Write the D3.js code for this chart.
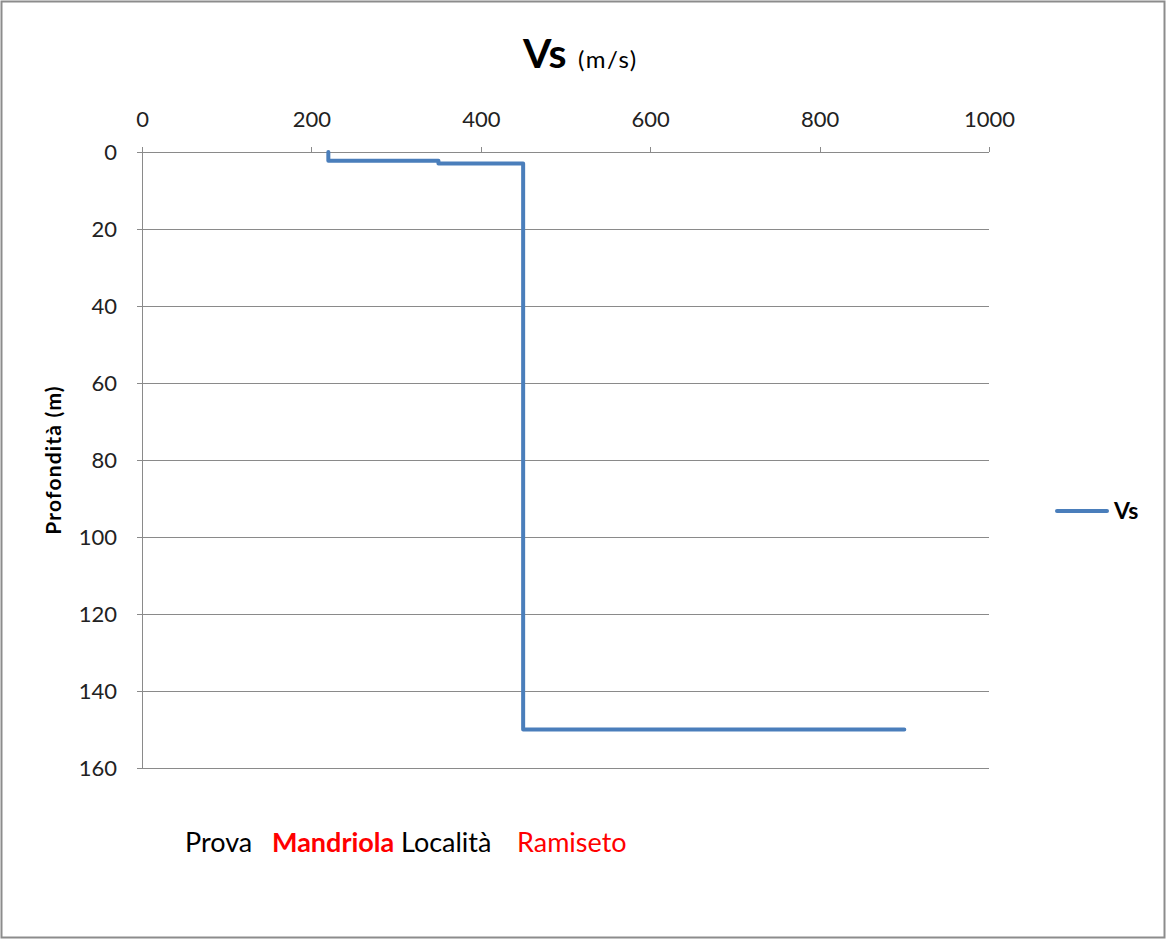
<!DOCTYPE html>
<html><head><meta charset="utf-8">
<script src="https://cdn.jsdelivr.net/npm/d3@7"></script>
<style>body{margin:0;background:#fff;} svg{display:block;}</style>
</head><body>
<svg id="c" width="1168" height="940"></svg>
<script>
const vs = [220, 220, 350, 350, 450, 450, 900];
const depth = [0, 2.3, 2.3, 3, 3, 150, 150];
const xTicks = [0, 200, 400, 600, 800, 1000];
const yTicks = [0, 20, 40, 60, 80, 100, 120, 140, 160];
const seriesName = "Vs";

const font = "Lato, 'Open Sans', sans-serif";
const svg = d3.select("#c");
svg.append("rect").attr("x",1.5).attr("y",1.5).attr("width",1163).attr("height",936)
  .attr("fill","#fff").attr("stroke","#8c8c8c").attr("stroke-width",2);

const x = d3.scaleLinear().domain([0,1000]).range([142,989]);
const y = d3.scaleLinear().domain([0,160]).range([152,768]);

// gridlines
svg.append("g").selectAll("line").data(yTicks.slice(1)).join("line")
  .attr("x1",142).attr("x2",989).attr("y1",d=>y(d)).attr("y2",d=>y(d))
  .attr("stroke","#8a8a8a").attr("stroke-width",1).attr("shape-rendering","crispEdges");

// top axis
const xa = svg.append("g").attr("transform","translate(0,152)")
  .call(d3.axisTop(x).tickValues(xTicks).tickSize(5).tickPadding(20).tickFormat(d3.format("d")));
// left axis
const ya = svg.append("g").attr("transform","translate(142,0)")
  .call(d3.axisLeft(y).tickValues(yTicks).tickSize(5).tickPadding(20).tickFormat(d3.format("d")));
[xa, ya].forEach(g=>{
  g.selectAll("path,line").attr("stroke","#8a8a8a").attr("shape-rendering","crispEdges");
  g.selectAll("text").attr("font-family",font).attr("font-size",22).attr("fill","#222");
});
ya.select(".domain").attr("d","M0,152V768");
xa.select(".domain").attr("d","M142,0H989");
ya.selectAll("text").attr("dy","0.36em");

// line
const pts = vs.map((v,i)=>[v, depth[i]]);
svg.append("path").datum(pts)
  .attr("d", d3.line().x(d=>x(d[0])).y(d=>y(d[1])))
  .attr("fill","none").attr("stroke","#4a7ebb").attr("stroke-width",4)
  .attr("stroke-linejoin","round").attr("stroke-linecap","round");

// title
const t = svg.append("text").attr("x",523).attr("y",68)
  .attr("font-family",font).attr("fill","#000");
t.append("tspan").attr("font-size",41).attr("font-weight","bold").text("Vs");
t.append("tspan").attr("x",578).attr("font-size",24).attr("letter-spacing",1.5).text("(m/s)");

// y title
svg.append("text").attr("transform","translate(61,460) rotate(-90)").attr("text-anchor","middle")
  .attr("font-family",font).attr("font-size",21).attr("font-weight","bold").attr("fill","#000")
  .attr("letter-spacing",1.2).text("Profondità (m)");

// legend
svg.append("line").attr("x1",1057).attr("x2",1107).attr("y1",511).attr("y2",511)
  .attr("stroke","#4a7ebb").attr("stroke-width",4).attr("stroke-linecap","round");
svg.append("text").attr("x",1114).attr("y",519).attr("font-family",font).attr("font-size",23)
  .attr("font-weight","bold").attr("fill","#000").text(seriesName);

// bottom note
const notes = [["Prova",185,"#000","normal"],["Mandriola",272,"#ff0000","bold"],["Località",401,"#000","normal"],["Ramiseto",517,"#ff0000","normal"]];
svg.append("g").selectAll("text").data(notes).join("text")
  .attr("x",d=>d[1]).attr("y",852).attr("font-family",font).attr("font-size",27)
  .attr("fill",d=>d[2]).attr("font-weight",d=>d[3]).text(d=>d[0]);
</script>
</body></html>
